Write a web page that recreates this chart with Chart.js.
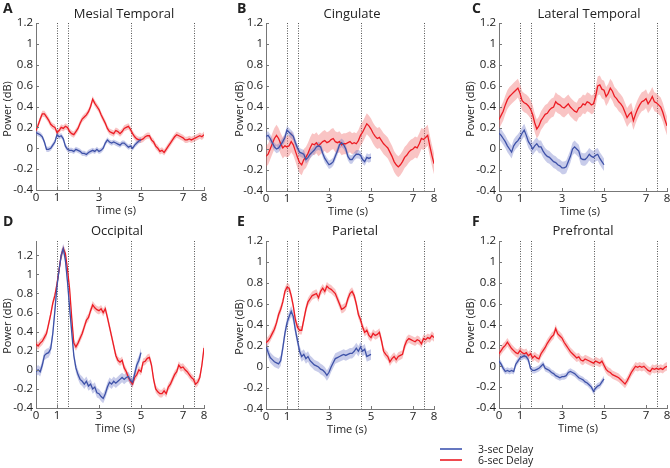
<!DOCTYPE html>
<html><head><meta charset="utf-8">
<script src="https://cdn.jsdelivr.net/npm/chart.js@4.4.1/dist/chart.umd.min.js"></script>
<style>
body{margin:0;width:670px;height:468px;overflow:hidden;background:#fff;position:relative;font-family:"Open Sans",sans-serif;color:#222}
.t{position:absolute;white-space:nowrap;transform:translate(-50%,-50%);line-height:1}
.lt{position:absolute;white-space:nowrap;transform:translate(0,-50%);line-height:1}
.vt{position:absolute;white-space:nowrap;transform:translate(-50%,-50%) rotate(-90deg);line-height:1}
.pw{position:absolute}
.lg{position:absolute;height:1.5px}
</style></head><body>
<script>
// ---------- categories (time, s) ----------
const t6 = [0,0.1,0.2,0.3,0.4,0.5,0.6,0.7,0.8,0.9,1,1.1,1.2,1.3,1.4,1.5,1.6,1.7,1.8,1.9,2,2.1,2.2,2.3,2.4,2.5,2.6,2.7,2.8,2.9,3,3.1,3.2,3.3,3.4,3.5,3.6,3.7,3.8,3.9,4,4.1,4.2,4.3,4.4,4.5,4.6,4.7,4.8,4.9,5,5.1,5.2,5.3,5.4,5.5,5.6,5.7,5.8,5.9,6,6.1,6.2,6.3,6.4,6.5,6.6,6.7,6.8,6.9,7,7.1,7.2,7.3,7.4,7.5,7.6,7.7,7.8,7.9,8];
const t3 = [0,0.1,0.2,0.3,0.4,0.5,0.6,0.7,0.8,0.9,1,1.1,1.2,1.3,1.4,1.5,1.6,1.7,1.8,1.9,2,2.1,2.2,2.3,2.4,2.5,2.6,2.7,2.8,2.9,3,3.1,3.2,3.3,3.4,3.5,3.6,3.7,3.8,3.9,4,4.1,4.2,4.3,4.4,4.5,4.6,4.7,4.8,4.9,5];

// ---------- tick labels ----------
const xTickVals = [0,1,3,5,7,8];
const yTickVals = [-0.4,-0.2,0,0.2,0.4,0.6,0.8,1,1.2];
const yTickLabels = ['-0.4','-0.2','0','0.2','0.4','0.6','0.8','1','1.2'];
const eventTimes = [1,1.5,4.5,7.5];

const panelLetters = ['A','B','C','D','E','F'];
const panelTitles = ['Mesial Temporal','Cingulate','Lateral Temporal','Occipital','Parietal','Prefrontal'];
const seriesNames = ['3-sec Delay','6-sec Delay'];

// ---------- A: Mesial Temporal ----------
const mesial6 = [0.17,0.22,0.28,0.33,0.33,0.30,0.27,0.23,0.21,0.20,
 0.15,0.17,0.20,0.19,0.21,0.20,0.16,0.14,0.13,0.16,
 0.19,0.24,0.28,0.30,0.32,0.35,0.40,0.47,0.43,0.40,
 0.37,0.32,0.28,0.24,0.19,0.16,0.15,0.14,0.17,0.16,
 0.14,0.16,0.19,0.20,0.21,0.18,0.14,0.11,0.09,0.08,
 0.08,0.09,0.11,0.12,0.12,0.08,0.06,0.02,0.00,-0.03,
 -0.02,-0.04,-0.01,0.02,0.05,0.08,0.11,0.13,0.12,0.11,
 0.10,0.08,0.08,0.09,0.08,0.09,0.10,0.11,0.12,0.11,
 0.13];
const mesial3 = [0.15,0.14,0.13,0.11,0.06,-0.01,-0.01,0.00,0.03,0.06,
 0.13,0.11,0.12,0.09,0.02,-0.01,-0.02,-0.02,-0.03,-0.01,
 -0.02,-0.03,-0.05,-0.05,-0.06,-0.04,-0.03,-0.02,-0.03,-0.01,
 -0.03,-0.02,0.00,0.05,0.08,0.06,0.05,0.06,0.05,0.04,
 0.03,0.05,0.05,0.03,0.01,0.02,0.00,0.03,0.05,0.07,
 0.08];

// ---------- B: Cingulate ----------
const cing6 = [-0.07,-0.05,0.00,0.05,0.10,0.13,0.10,0.05,0.01,0.03,
 0.02,0.03,0.07,0.04,-0.02,-0.08,-0.13,-0.15,-0.10,-0.08,
 -0.04,0.01,0.05,0.04,0.06,0.03,0.05,0.07,0.08,0.06,
 0.07,0.09,0.10,0.07,0.06,0.07,0.04,0.05,0.05,0.06,
 0.07,0.05,0.06,0.05,0.08,0.13,0.16,0.20,0.24,0.22,
 0.19,0.15,0.12,0.10,0.11,0.08,0.05,0.03,0.01,-0.03,
 -0.07,-0.12,-0.15,-0.17,-0.15,-0.12,-0.08,-0.06,-0.03,-0.01,
 0.00,0.02,0.01,0.05,0.10,0.09,0.11,0.13,0.03,-0.06,
 -0.14];
const cing3 = [0.12,0.13,0.10,0.06,0.02,0.00,0.01,0.04,0.07,0.11,
 0.18,0.16,0.14,0.12,0.06,0.01,-0.03,-0.04,-0.05,-0.10,
 -0.08,-0.05,-0.03,-0.01,0.02,0.03,0.02,-0.04,-0.09,-0.12,
 -0.15,-0.14,-0.12,-0.07,-0.02,0.04,0.06,0.04,0.00,-0.07,
 -0.10,-0.10,-0.07,-0.05,-0.05,-0.06,-0.10,-0.12,-0.08,-0.09,
 -0.08];

// ---------- C: Lateral Temporal ----------
const lat6 = [0.28,0.32,0.36,0.42,0.47,0.50,0.52,0.54,0.56,0.58,
 0.53,0.46,0.44,0.43,0.41,0.38,0.33,0.25,0.19,0.22,
 0.27,0.30,0.33,0.34,0.37,0.39,0.40,0.45,0.43,0.42,
 0.40,0.39,0.41,0.43,0.40,0.38,0.36,0.35,0.39,0.40,
 0.43,0.42,0.45,0.44,0.42,0.43,0.50,0.60,0.61,0.57,
 0.56,0.50,0.53,0.58,0.55,0.50,0.48,0.45,0.43,0.40,
 0.35,0.30,0.33,0.35,0.27,0.33,0.38,0.42,0.45,0.46,
 0.48,0.43,0.46,0.50,0.45,0.44,0.42,0.40,0.35,0.28,
 0.22];
const lat3 = [0.15,0.13,0.10,0.07,0.03,0.00,-0.03,0.03,0.06,0.08,
 0.11,0.15,0.18,0.13,0.07,0.04,0.00,0.03,0.05,0.02,
 0.02,-0.02,-0.05,-0.07,-0.08,-0.10,-0.12,-0.13,-0.15,-0.16,
 -0.18,-0.18,-0.17,-0.12,-0.07,0.00,0.02,0.00,-0.02,-0.09,
 -0.10,-0.10,-0.08,-0.05,-0.07,-0.08,-0.06,-0.05,-0.09,-0.12,
 -0.15];

// ---------- D: Occipital ----------
const occ6 = [0.27,0.25,0.28,0.30,0.34,0.38,0.48,0.58,0.70,0.78,
 0.90,1.05,1.20,1.27,1.22,1.05,0.85,0.55,0.28,0.24,
 0.28,0.33,0.38,0.45,0.52,0.55,0.62,0.68,0.65,0.63,
 0.62,0.64,0.60,0.64,0.55,0.45,0.35,0.25,0.15,0.10,
 0.08,0.10,0.02,-0.02,-0.08,-0.12,-0.15,-0.08,-0.05,0.00,
 -0.02,0.08,0.09,0.12,0.13,0.05,-0.10,-0.20,-0.23,-0.25,
 -0.25,-0.22,-0.25,-0.18,-0.15,-0.10,-0.05,-0.02,0.05,0.02,
 0.03,0.00,-0.02,-0.05,-0.08,-0.10,-0.15,-0.13,-0.08,0.05,
 0.23];
const occ3 = [-0.02,0.00,-0.02,0.05,0.15,0.17,0.18,0.22,0.38,0.62,
 0.88,1.05,1.20,1.27,1.15,0.92,0.65,0.40,0.15,0.02,
 -0.05,-0.10,-0.12,-0.15,-0.12,-0.17,-0.15,-0.20,-0.18,-0.24,
 -0.25,-0.28,-0.30,-0.25,-0.18,-0.13,-0.15,-0.12,-0.14,-0.12,
 -0.10,-0.08,-0.10,-0.08,-0.07,-0.11,-0.13,-0.04,0.05,0.10,
 0.18];

// ---------- E: Parietal ----------
const par6 = [0.23,0.25,0.28,0.32,0.36,0.42,0.50,0.55,0.62,0.72,
 0.76,0.75,0.68,0.58,0.45,0.38,0.35,0.35,0.45,0.55,
 0.62,0.65,0.68,0.69,0.70,0.66,0.72,0.75,0.72,0.77,
 0.75,0.74,0.72,0.70,0.65,0.60,0.55,0.56,0.58,0.65,
 0.70,0.72,0.68,0.60,0.50,0.45,0.38,0.33,0.35,0.30,
 0.28,0.32,0.30,0.31,0.33,0.25,0.15,0.12,0.10,0.05,
 0.08,0.10,0.07,0.10,0.11,0.12,0.20,0.25,0.27,0.26,
 0.25,0.24,0.26,0.25,0.22,0.27,0.26,0.28,0.27,0.30,
 0.28];
const par3 = [0.20,0.14,0.09,0.07,0.05,0.04,0.03,0.06,0.18,0.32,
 0.42,0.48,0.53,0.48,0.35,0.25,0.15,0.10,0.12,0.08,
 0.10,0.06,0.04,0.02,0.01,0.00,-0.02,-0.03,-0.05,-0.08,
 -0.05,0.00,0.04,0.08,0.09,0.10,0.11,0.12,0.11,0.12,
 0.13,0.13,0.15,0.18,0.15,0.19,0.15,0.17,0.10,0.11,
 0.12];

// ---------- F: Prefrontal ----------
const pre6 = [0.12,0.15,0.18,0.20,0.23,0.20,0.17,0.15,0.13,0.12,
 0.15,0.13,0.12,0.13,0.10,0.12,0.08,0.10,0.08,0.07,
 0.12,0.15,0.18,0.22,0.25,0.28,0.30,0.36,0.31,0.29,
 0.27,0.23,0.20,0.17,0.14,0.12,0.10,0.08,0.09,0.06,
 0.05,0.07,0.06,0.05,0.04,0.03,0.05,0.04,0.03,0.05,
 0.01,-0.03,-0.05,-0.06,-0.08,-0.09,-0.10,-0.11,-0.13,-0.15,
 -0.17,-0.14,-0.10,-0.06,-0.03,0.00,-0.01,0.00,-0.01,0.00,
 -0.02,-0.04,-0.05,-0.02,-0.03,-0.02,-0.03,-0.02,-0.03,-0.01,
 0.00];
const pre3 = [0.05,0.02,-0.02,-0.05,-0.04,-0.05,-0.04,-0.05,0.02,0.05,
 0.08,0.09,0.10,0.09,0.06,-0.02,-0.04,-0.04,-0.03,-0.02,
 0.00,0.02,-0.02,-0.03,-0.04,-0.06,-0.07,-0.09,-0.10,-0.11,
 -0.10,-0.10,-0.09,-0.06,-0.05,-0.06,-0.07,-0.09,-0.11,-0.12,
 -0.13,-0.15,-0.16,-0.18,-0.20,-0.24,-0.21,-0.19,-0.18,-0.15,
 -0.12];

// ---------- SEM half-widths per panel [3-sec, 6-sec] ----------
const semMesial = [0.025,0.03];
const semCing = [0.04,0.10];
const semLat = [0.06,0.09];
const semOcc = [0.05,0.04];
const semPar = [0.05,0.04];
const semPre = [0.03,0.04];

const RED = '#ec1c24', BLUE = '#3e52a8';
const RED_BAND = 'rgba(240,100,100,0.38)', BLUE_BAND = 'rgba(110,120,200,0.38)';

const panels = [
  {L:36, R:204, T:23, B:190, ymax:1.2, s3:mesial3, s6:mesial6, sem:semMesial},
  {L:266,R:434, T:23, B:191, ymax:1.2, s3:cing3, s6:cing6, sem:semCing},
  {L:499,R:667, T:23, B:191, ymax:1.2, s3:lat3, s6:lat6, sem:semLat},
  {L:36, R:204, T:241,B:408, ymax:1.35,s3:occ3, s6:occ6, sem:semOcc},
  {L:266,R:434, T:241,B:409, ymax:1.2, s3:par3, s6:par6, sem:semPar},
  {L:499,R:667, T:241,B:408, ymax:1.2, s3:pre3, s6:pre6, sem:semPre}
];

const guides = {
  id:'guides',
  beforeDatasetsDraw(chart){
    const {ctx, chartArea:{top,bottom}, scales:{x}} = chart;
    ctx.save(); ctx.strokeStyle='#555'; ctx.lineWidth=1; ctx.setLineDash([1,1.5]);
    eventTimes.forEach(v=>{
      const px = Math.round(x.getPixelForValue(v))+0.5;
      ctx.beginPath(); ctx.moveTo(px,top); ctx.lineTo(px,bottom); ctx.stroke();
    });
    ctx.restore();
  },
  afterDraw(chart){
    const {ctx, chartArea:{left,bottom}, scales:{x,y}} = chart;
    ctx.save(); ctx.strokeStyle='#777'; ctx.lineWidth=1;
    y.ticks.forEach(t=>{ const py=Math.round(y.getPixelForValue(t.value))+0.5;
      ctx.beginPath(); ctx.moveTo(left,py); ctx.lineTo(left+3,py); ctx.stroke(); });
    x.ticks.forEach(t=>{ const px=Math.round(x.getPixelForValue(t.value))+0.5;
      ctx.beginPath(); ctx.moveTo(px,bottom); ctx.lineTo(px,bottom-3); ctx.stroke(); });
    ctx.restore();
  }
};

function pts(times, vals, off){ return times.map((t,i)=>({x:t, y:vals[i]+off})); }

panels.forEach((p)=>{
  const W = (p.R-p.L)+36+11, H = (p.B-p.T)+10+23;
  const wrap = document.createElement('div');
  wrap.className='pw';
  wrap.style.left=(p.L-36)+'px'; wrap.style.top=(p.T-10)+'px';
  wrap.style.width=W+'px'; wrap.style.height=H+'px';
  const cv = document.createElement('canvas');
  cv.width=W; cv.height=H; cv.style.width=W+'px'; cv.style.height=H+'px';
  wrap.appendChild(cv); document.body.appendChild(wrap);
  const base = {pointRadius:0, tension:0, borderWidth:0};
  new Chart(cv, {
    type:'line',
    data:{datasets:[
      {...base, data:pts(t6,p.s6,p.sem[1]), fill:'+1', backgroundColor:RED_BAND, borderColor:'rgba(0,0,0,0)', order:4},
      {...base, data:pts(t6,p.s6,-p.sem[1]), fill:false, borderColor:'rgba(0,0,0,0)', order:4},
      {...base, data:pts(t3,p.s3,p.sem[0]), fill:'+1', backgroundColor:BLUE_BAND, borderColor:'rgba(0,0,0,0)', order:3},
      {...base, data:pts(t3,p.s3,-p.sem[0]), fill:false, borderColor:'rgba(0,0,0,0)', order:3},
      {label:seriesNames[1], data:pts(t6,p.s6,0), borderColor:RED, borderWidth:1.3, pointRadius:0, tension:0, fill:false, order:1},
      {label:seriesNames[0], data:pts(t3,p.s3,0), borderColor:BLUE, borderWidth:1.3, pointRadius:0, tension:0, fill:false, order:0}
    ]},
    options:{
      responsive:false, animation:false, devicePixelRatio:1,
      layout:{padding:{top:10,right:11,left:0,bottom:0}},
      plugins:{legend:{display:false}, tooltip:{enabled:false}},
      scales:{
        x:{type:'linear', min:0, max:8,
           afterBuildTicks(s){ s.ticks = xTickVals.map(v=>({value:v})); },
           afterFit(s){ s.height=23; },
           grid:{display:false, drawTicks:false},
           border:{display:true, color:'#777', width:1},
           ticks:{autoSkip:false, maxRotation:0, padding:1, color:'#222',
                  font:{family:'Open Sans', size:11.5}, callback:(v)=>String(v)}},
        y:{min:-0.4, max:p.ymax,
           afterBuildTicks(s){ s.ticks = yTickVals.map(v=>({value:v})); },
           afterFit(s){ s.width=36; },
           grid:{display:false, drawTicks:false},
           border:{display:true, color:'#777', width:1},
           ticks:{autoSkip:false, padding:3, color:'#222',
                  font:{family:'Open Sans', size:11.5}, callback:(v,i)=>yTickLabels[i]}}
      }
    },
    plugins:[guides]
  });
});

// ---------- text overlays ----------
function txt(cls, s, x, y, css){ const d=document.createElement('div'); d.className=cls; d.textContent=s;
  d.style.left=x+'px'; d.style.top=y+'px'; if(css) d.style.cssText+=css; document.body.appendChild(d); return d; }
const letterPos = [[3,8],[237,8],[472,8],[3,221],[237,221],[472,221]];
letterPos.forEach((q,i)=>txt('lt', panelLetters[i], q[0], q[1], 'font-weight:700;font-size:14px;'));
const titlePos = [[124,13],[352,13],[589,13],[117,230],[355,230],[583,230]];
titlePos.forEach((q,i)=>txt('t', panelTitles[i], q[0], q[1], 'font-size:13px;'));
const ylabPos = [[6,109],[238,109],[469,109],[6,326],[238,327],[469,326]];
ylabPos.forEach(q=>txt('vt','Power (dB)', q[0], q[1], 'font-size:11px;'));
const xlabPos = [[116,209],[348,210],[580,210],[115,427],[347,428],[578,427]];
xlabPos.forEach(q=>txt('t','Time (s)', q[0], q[1], 'font-size:11px;'));
// legend
const l1=document.createElement('div'); l1.className='lg'; l1.style.cssText+='left:440px;top:448px;width:22px;background:#6577c0;'; document.body.appendChild(l1);
const l2=document.createElement('div'); l2.className='lg'; l2.style.cssText+='left:440px;top:459px;width:22px;background:#ef4a50;'; document.body.appendChild(l2);
txt('lt', seriesNames[0], 478, 449, 'font-size:10.5px;');
txt('lt', seriesNames[1], 478, 460, 'font-size:10.5px;');
</script>
</body></html>
